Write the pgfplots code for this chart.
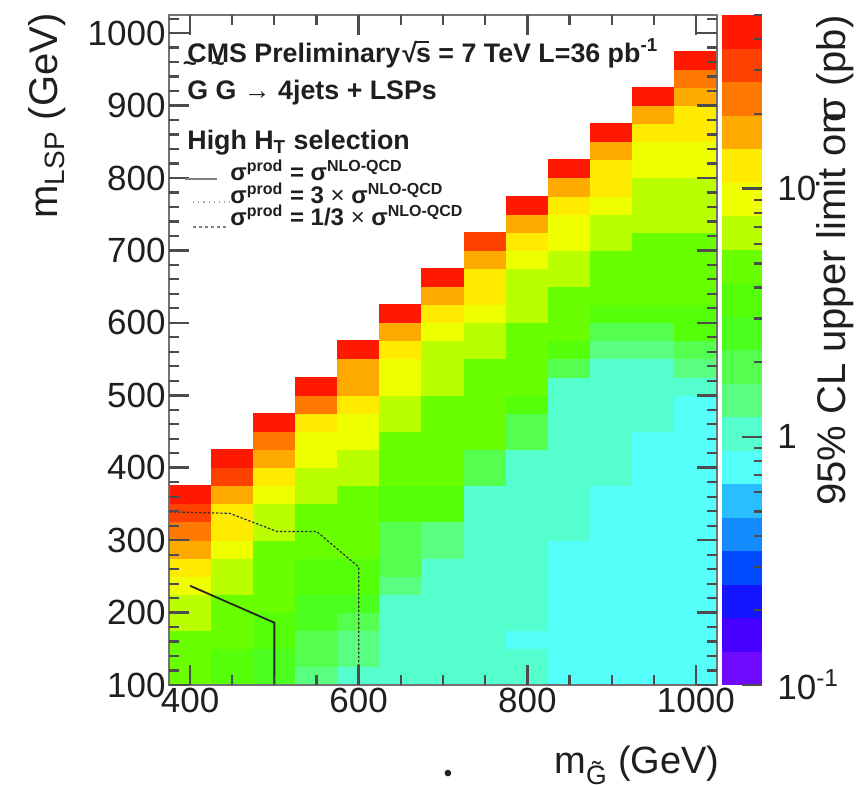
\documentclass[border=0pt]{standalone}
\usepackage{fontspec}
\setmainfont{Liberation Sans}
\usepackage{pgfplots}
\usepackage{pgfplotstable}
\pgfplotsset{compat=1.18}
\pgfdeclareplotmark{cell}{%
  \pgfpathrectangle{\pgfpoint{-10.75pt}{-4.75pt}}{\pgfpoint{21.5pt}{9.5pt}}%
  \pgfusepathqfill}
\pgfdeclareplotmark{band}{%
  \pgfpathrectangle{\pgfpoint{-10pt}{-8.5pt}}{\pgfpoint{20pt}{17pt}}%
  \pgfusepathqfill}
\definecolor{txt}{gray}{0.12}
\pgfplotsset{
  rootpal/.style={
    colormap={rootpal}{
      rgb255=(110,10,255) rgb255=(70,0,255) rgb255=(20,20,255) rgb255=(0,75,255)
      rgb255=(20,140,255) rgb255=(40,190,255) rgb255=(85,255,250) rgb255=(85,255,205)
      rgb255=(90,255,130) rgb255=(85,255,80) rgb255=(75,255,30) rgb255=(85,255,10)
      rgb255=(105,255,0) rgb255=(185,255,0) rgb255=(238,255,0) rgb255=(255,235,0)
      rgb255=(255,170,0) rgb255=(255,120,0) rgb255=(255,65,0) rgb255=(255,25,0)},
    colormap access=piecewise constant,
    point meta min=-1, point meta max=1.7},
  mainframe/.style={
    at={(84.5pt,49.5pt)}, anchor=south west,
    scale only axis, width=274pt, height=335pt,
    xmin=375, xmax=1025, ymin=100, ymax=1025},
  cbframe/.style={
    at={(361pt,49.5pt)}, anchor=south west,
    scale only axis, width=20pt, height=335pt},
  mainticks/.style={
    xtick={400,600,800,1000},
    minor xtick={450,500,550,650,700,750,850,900,950},
    ytick={100,200,300,400,500,600,700,800,900,1000},
    minor ytick={120,140,160,180,220,240,260,280,320,340,360,380,420,440,460,480,
                 520,540,560,580,620,640,660,680,720,740,760,780,820,840,860,880,
                 920,940,960,980,1020},
    tick align=inside,
    major tick length=10pt, minor tick length=5pt,
    major tick style={draw=black!70, line width=1.3pt},
    minor tick style={draw=black!70, line width=1.1pt}}
}
% 95% CL upper limit (pb) per bin: x = m_gluino bin centre, y = m_LSP bin centre
\pgfplotstableread[row sep=\\]{
x y z\\
400 112.5 4.87\\ 400 137.5 4.87\\ 400 162.5 4.87\\ 400 187.5 6.65\\ 400 212.5 6.65\\ 400 237.5 9.07\\ 400 262.5 12.4\\ 400 287.5 16.9\\ 400 312.5 23.0\\ 400 337.5 31.4\\ 400 362.5 42.9\\
450 112.5 3.57\\ 450 137.5 3.57\\ 450 162.5 4.87\\ 450 187.5 4.87\\ 450 212.5 4.87\\ 450 237.5 6.65\\ 450 262.5 6.65\\ 450 287.5 9.07\\ 450 312.5 12.4\\ 450 337.5 12.4\\ 450 362.5 16.9\\ 450 387.5 31.4\\ 450 412.5 42.9\\
500 112.5 2.62\\ 500 137.5 2.62\\ 500 162.5 3.57\\ 500 187.5 3.57\\ 500 212.5 4.87\\ 500 237.5 4.87\\ 500 262.5 4.87\\ 500 287.5 4.87\\ 500 312.5 6.65\\ 500 337.5 6.65\\ 500 362.5 9.07\\ 500 387.5 12.4\\ 500 412.5 16.9\\ 500 437.5 23.0\\ 500 462.5 42.9\\
550 112.5 1.40\\ 550 137.5 1.92\\ 550 162.5 1.92\\ 550 187.5 2.62\\ 550 212.5 2.62\\ 550 237.5 3.57\\ 550 262.5 3.57\\ 550 287.5 4.87\\ 550 312.5 4.87\\ 550 337.5 4.87\\ 550 362.5 6.65\\ 550 387.5 6.65\\ 550 412.5 9.07\\ 550 437.5 9.07\\ 550 462.5 12.4\\ 550 487.5 23.0\\ 550 512.5 42.9\\
600 112.5 1.03\\ 600 137.5 1.40\\ 600 162.5 1.40\\ 600 187.5 1.92\\ 600 212.5 2.62\\ 600 237.5 3.57\\ 600 262.5 3.57\\ 600 287.5 4.87\\ 600 312.5 4.87\\ 600 337.5 4.87\\ 600 362.5 4.87\\ 600 387.5 6.65\\ 600 412.5 6.65\\ 600 437.5 9.07\\ 600 462.5 9.07\\ 600 487.5 12.4\\ 600 512.5 16.9\\ 600 537.5 16.9\\ 600 562.5 42.9\\
650 112.5 1.03\\ 650 137.5 1.03\\ 650 162.5 1.03\\ 650 187.5 1.03\\ 650 212.5 1.03\\ 650 237.5 1.40\\ 650 262.5 1.92\\ 650 287.5 1.92\\ 650 312.5 1.92\\ 650 337.5 3.57\\ 650 362.5 3.57\\ 650 387.5 4.87\\ 650 412.5 4.87\\ 650 437.5 4.87\\ 650 462.5 6.65\\ 650 487.5 6.65\\ 650 512.5 9.07\\ 650 537.5 9.07\\ 650 562.5 12.4\\ 650 587.5 16.9\\ 650 612.5 42.9\\
700 112.5 1.03\\ 700 137.5 1.03\\ 700 162.5 1.03\\ 700 187.5 1.03\\ 700 212.5 1.03\\ 700 237.5 1.03\\ 700 262.5 1.03\\ 700 287.5 1.40\\ 700 312.5 1.40\\ 700 337.5 3.57\\ 700 362.5 3.57\\ 700 387.5 4.87\\ 700 412.5 4.87\\ 700 437.5 4.87\\ 700 462.5 4.87\\ 700 487.5 4.87\\ 700 512.5 6.65\\ 700 537.5 6.65\\ 700 562.5 6.65\\ 700 587.5 9.07\\ 700 612.5 12.4\\ 700 637.5 16.9\\ 700 662.5 42.9\\
750 112.5 1.03\\ 750 137.5 1.03\\ 750 162.5 1.03\\ 750 187.5 1.03\\ 750 212.5 1.03\\ 750 237.5 1.03\\ 750 262.5 1.03\\ 750 287.5 1.03\\ 750 312.5 1.03\\ 750 337.5 1.03\\ 750 362.5 1.03\\ 750 387.5 1.92\\ 750 412.5 1.92\\ 750 437.5 4.87\\ 750 462.5 4.87\\ 750 487.5 4.87\\ 750 512.5 4.87\\ 750 537.5 4.87\\ 750 562.5 6.65\\ 750 587.5 6.65\\ 750 612.5 9.07\\ 750 637.5 12.4\\ 750 662.5 12.4\\ 750 687.5 16.9\\ 750 712.5 31.4\\
800 112.5 1.03\\ 800 137.5 1.03\\ 800 162.5 0.75\\ 800 187.5 1.03\\ 800 212.5 1.03\\ 800 237.5 1.03\\ 800 262.5 1.03\\ 800 287.5 1.03\\ 800 312.5 1.03\\ 800 337.5 1.03\\ 800 362.5 1.03\\ 800 387.5 1.03\\ 800 412.5 1.03\\ 800 437.5 1.92\\ 800 462.5 1.92\\ 800 487.5 3.57\\ 800 512.5 4.87\\ 800 537.5 4.87\\ 800 562.5 4.87\\ 800 587.5 4.87\\ 800 612.5 6.65\\ 800 637.5 6.65\\ 800 662.5 6.65\\ 800 687.5 9.07\\ 800 712.5 12.4\\ 800 737.5 16.9\\ 800 762.5 42.9\\
850 112.5 0.75\\ 850 137.5 0.75\\ 850 162.5 0.75\\ 850 187.5 0.75\\ 850 212.5 0.75\\ 850 237.5 0.75\\ 850 262.5 0.75\\ 850 287.5 0.75\\ 850 312.5 1.03\\ 850 337.5 1.03\\ 850 362.5 1.03\\ 850 387.5 1.03\\ 850 412.5 1.03\\ 850 437.5 1.03\\ 850 462.5 1.03\\ 850 487.5 1.03\\ 850 512.5 1.03\\ 850 537.5 1.92\\ 850 562.5 3.57\\ 850 587.5 4.87\\ 850 612.5 4.87\\ 850 637.5 4.87\\ 850 662.5 6.65\\ 850 687.5 6.65\\ 850 712.5 9.07\\ 850 737.5 9.07\\ 850 762.5 12.4\\ 850 787.5 16.9\\ 850 812.5 42.9\\
900 112.5 0.75\\ 900 137.5 0.75\\ 900 162.5 0.75\\ 900 187.5 0.75\\ 900 212.5 0.75\\ 900 237.5 0.75\\ 900 262.5 0.75\\ 900 287.5 0.75\\ 900 312.5 0.75\\ 900 337.5 0.75\\ 900 362.5 0.75\\ 900 387.5 1.03\\ 900 412.5 1.03\\ 900 437.5 1.03\\ 900 462.5 1.03\\ 900 487.5 1.03\\ 900 512.5 1.03\\ 900 537.5 1.03\\ 900 562.5 1.40\\ 900 587.5 1.92\\ 900 612.5 3.57\\ 900 637.5 4.87\\ 900 662.5 4.87\\ 900 687.5 4.87\\ 900 712.5 6.65\\ 900 737.5 6.65\\ 900 762.5 9.07\\ 900 787.5 12.4\\ 900 812.5 12.4\\ 900 837.5 16.9\\ 900 862.5 42.9\\
950 112.5 0.75\\ 950 137.5 0.75\\ 950 162.5 0.75\\ 950 187.5 0.75\\ 950 212.5 0.75\\ 950 237.5 0.75\\ 950 262.5 0.75\\ 950 287.5 0.75\\ 950 312.5 0.75\\ 950 337.5 0.75\\ 950 362.5 0.75\\ 950 387.5 0.75\\ 950 412.5 0.75\\ 950 437.5 0.75\\ 950 462.5 1.03\\ 950 487.5 1.03\\ 950 512.5 1.03\\ 950 537.5 1.03\\ 950 562.5 1.40\\ 950 587.5 1.92\\ 950 612.5 3.57\\ 950 637.5 4.87\\ 950 662.5 4.87\\ 950 687.5 4.87\\ 950 712.5 4.87\\ 950 737.5 6.65\\ 950 762.5 6.65\\ 950 787.5 6.65\\ 950 812.5 9.07\\ 950 837.5 9.07\\ 950 862.5 12.4\\ 950 887.5 16.9\\ 950 912.5 42.9\\
1000 112.5 0.75\\ 1000 137.5 0.75\\ 1000 162.5 0.75\\ 1000 187.5 0.75\\ 1000 212.5 0.75\\ 1000 237.5 0.75\\ 1000 262.5 0.75\\ 1000 287.5 0.75\\ 1000 312.5 0.75\\ 1000 337.5 0.75\\ 1000 362.5 0.75\\ 1000 387.5 0.75\\ 1000 412.5 0.75\\ 1000 437.5 0.75\\ 1000 462.5 0.75\\ 1000 487.5 0.75\\ 1000 512.5 1.03\\ 1000 537.5 1.40\\ 1000 562.5 1.92\\ 1000 587.5 3.57\\ 1000 612.5 3.57\\ 1000 637.5 4.87\\ 1000 662.5 4.87\\ 1000 687.5 4.87\\ 1000 712.5 4.87\\ 1000 737.5 6.65\\ 1000 762.5 6.65\\ 1000 787.5 6.65\\ 1000 812.5 9.07\\ 1000 837.5 9.07\\ 1000 862.5 12.4\\ 1000 887.5 12.4\\ 1000 912.5 16.9\\ 1000 937.5 23.0\\ 1000 962.5 42.9\\
}\celldata
\begin{document}
\begin{tikzpicture}
\useasboundingbox (0pt,0pt) rectangle (431pt,392pt);
% (A) the cells and the exclusion contours
\begin{axis}[mainframe, rootpal, hide axis, clip marker paths=true]
\addplot[scatter, only marks, mark=cell, point meta={log10(\thisrow{z})}]
  table[x=x, y=y] {\celldata};
% sigma_prod = sigma_NLO contour
\addplot[black!85, line width=0.9pt] coordinates {(400,237) (500,186) (500,100)};
% sigma_prod = 3 x sigma_NLO contour
\addplot[black!80, line width=0.6pt, dash pattern=on 1.2pt off 0.9pt]
  coordinates {(376,339) (447,337) (503,312) (550,312) (600,263) (600,100)};
\end{axis}
% (B) frame and tick labels
\begin{axis}[mainframe, mainticks,
  xticklabels={400,600,800,1000},
  yticklabels={100,200,300,400,500,600,700,800,900,1000},
  xtick pos=both, ytick pos=both,
  axis line style={black!55, line width=0.9pt},
  xticklabel style={font=\fontsize{17.5}{18}\selectfont, text=txt, inner sep=1.5pt},
  yticklabel style={font=\fontsize{17.5}{18}\selectfont, text=txt, inner sep=1.5pt},
]
\end{axis}
% (D) ticks on the bottom and left sides
\begin{axis}[mainframe, mainticks,
  xtick pos=left, ytick pos=left,
  xticklabels={}, yticklabels={},
  axis line style={draw=none}]
\end{axis}
% (E) ticks on the top and right sides
\begin{axis}[mainframe, mainticks,
  xtick pos=right, ytick pos=right,
  xticklabels={}, yticklabels={},
  axis line style={draw=none}]
\end{axis}
% (C1) colour scale: the 20 bands of the palette, log10(limit/pb) from -1 to 1.7
\begin{axis}[cbframe, rootpal, hide axis, clip marker paths=true,
  xmin=0, xmax=1, ymin=-1, ymax=1.7]
\addplot[scatter, only marks, mark=band, point meta=y] coordinates {
  (0.5,-0.9325) (0.5,-0.7975) (0.5,-0.6625) (0.5,-0.5275) (0.5,-0.3925)
  (0.5,-0.2575) (0.5,-0.1225) (0.5,0.0125) (0.5,0.1475) (0.5,0.2825)
  (0.5,0.4175) (0.5,0.5525) (0.5,0.6875) (0.5,0.8225) (0.5,0.9575)
  (0.5,1.0925) (0.5,1.2275) (0.5,1.3625) (0.5,1.4975) (0.5,1.6325)};
\end{axis}
% (C2) ticks and labels of the colour scale
\begin{axis}[cbframe,
  ymode=log, ymin=0.1, ymax=50.12, xmin=0, xmax=1,
  xtick=\empty,
  ytick={0.1,1,10}, yticklabels={10\textsuperscript{-1},1,10},
  minor ytick={0.2,0.3,0.4,0.5,0.6,0.7,0.8,0.9,2,3,4,5,6,7,8,9,20,30,40,50},
  ytick pos=right, yticklabel pos=right, tick align=inside,
  major tick length=10pt, minor tick length=4pt,
  major tick style={draw=black!70, line width=1.3pt},
  minor tick style={draw=black!70, line width=1.1pt},
  axis line style={draw=none},
  yticklabel style={font=\fontsize{17.5}{18}\selectfont, text=txt, inner sep=1.5pt, xshift=6pt},
]
\end{axis}
\begin{scope}[every node/.style={inner sep=0pt, text=txt}]
\node[anchor=base west, font=\bfseries\fontsize{13.4}{13.4}\selectfont] at (93.5pt,360.8pt)
  {CMS Preliminary\kern1pt\char"221A\kern-0.5pt\rlap{\rule[0.72em]{0.5em}{0.07em}}s = 7 TeV L=36 pb\textsuperscript{-1}};
\node[font=\bfseries\fontsize{12}{12}\selectfont] at (95pt,358.7pt) {\textasciitilde};
\node[font=\bfseries\fontsize{12}{12}\selectfont] at (109pt,358.7pt) {\textasciitilde};
\node[anchor=base west, font=\bfseries\fontsize{13.4}{13.4}\selectfont] at (93.5pt,342.2pt)
  {G G → 4jets + LSPs};
\node[anchor=base west, font=\bfseries\fontsize{13.4}{13.4}\selectfont] at (93.5pt,317.2pt)
  {High H\textsubscript{T} selection};
\node[anchor=base west, font=\bfseries\fontsize{12}{12}\selectfont] at (115pt,302pt)
  {σ\textsuperscript{prod} = σ\textsuperscript{NLO-QCD}};
\node[anchor=base west, font=\bfseries\fontsize{12}{12}\selectfont] at (115pt,290.5pt)
  {σ\textsuperscript{prod} = 3 {\mdseries ×} σ\textsuperscript{NLO-QCD}};
\node[anchor=base west, font=\bfseries\fontsize{12}{12}\selectfont] at (115pt,279.5pt)
  {σ\textsuperscript{prod} = 1/3 {\mdseries ×} σ\textsuperscript{NLO-QCD}};
\draw[gray, line width=1.2pt] (92.5pt,302.5pt) -- (108.5pt,302.5pt);
\draw[gray!70, line width=0.6pt, dotted] (96.5pt,291pt) -- (115pt,291pt);
\draw[gray, line width=0.8pt, dash pattern=on 1.5pt off 1.5pt] (96.5pt,278.5pt) -- (113.5pt,278.5pt);
\node[rotate=90, anchor=east, font=\fontsize{20}{20}\selectfont] at (23.75pt,385.5pt)
  {m\textsubscript{LSP} (GeV)};
\node[anchor=base east, font=\fontsize{19}{19}\selectfont] at (360pt,5.5pt)
  {m\textsubscript{\~{G}} (GeV)};
\node[rotate=90, anchor=east, font=\fontsize{20}{20}\selectfont] at (417.5pt,384.5pt)
  {95\% CL upper limit on\kern-0.25emσ (pb)};
\node[font=\fontsize{12}{12}\selectfont] at (224pt,4pt) {•};
\end{scope}
\end{tikzpicture}
\end{document}
